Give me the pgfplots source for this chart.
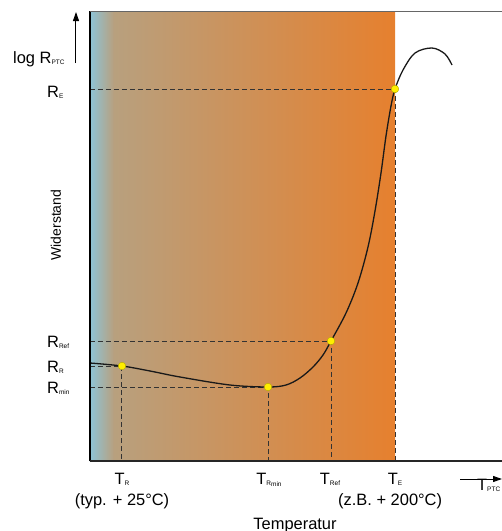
\documentclass[border=0pt]{standalone}
\usepackage{pgfplots}
\pgfplotsset{compat=1.18}
\usepackage{fontspec}
\setmainfont{Liberation Sans}
\usetikzlibrary{arrows.meta}

\definecolor{ptcblue}{HTML}{8DC4D8}
\definecolor{ptctan}{HTML}{B8A07E}
\definecolor{ptcorange}{HTML}{E6802E}
\definecolor{ptcyellow}{HTML}{FFEE00}

\newcommand{\sub}[1]{\raisebox{-1.5bp}{\fontsize{6.5}{7}\selectfont #1}}
\newcommand{\lab}{\fontsize{16.5}{18}\selectfont}

\begin{document}
\begin{tikzpicture}
\path[use as bounding box] (-90bp,-70bp) rectangle (412bp,461bp);
\begin{axis}[
    scale only axis,
    width=412bp, height=450bp,
    xmin=0, xmax=412, ymin=0, ymax=450,
    axis line style={draw=none},
    ticks=none,
    clip=false,
]
% background gradient
\addplot[draw=none, left color=ptcblue, right color=ptctan]
    coordinates {(0,0) (0,450) (24,450) (24,0)} -- cycle;
\addplot[draw=none, left color=ptctan, right color=ptcorange]
    coordinates {(24,0) (24,450) (305,450) (305,0)} -- cycle;

% dashed guides
\addplot[dash pattern=on 5bp off 3bp, line width=1bp, black!80] coordinates {(0,372) (305,372) (305,0)};
\addplot[dash pattern=on 5bp off 3bp, line width=1bp, black!80] coordinates {(0,120) (241,120) (241,0)};
\addplot[dash pattern=on 5bp off 3bp, line width=1bp, black!80] coordinates {(0,95) (32,95) (32,0)};
\addplot[dash pattern=on 5bp off 3bp, line width=1bp, black!80] coordinates {(0,74) (178,74) (178,0)};

% resistance curve
\addplot[smooth, tension=0.55, line width=1.3bp, black!90] coordinates {
    (0,98) (32,95) (60,90) (90,84) (140,76) (178,74) (196,76) (210,83)
    (223,94) (233,106) (241,120) (256,148) (268,178) (278,214) (285,250)
    (291,288) (296,325) (301,355) (305,372) (313,391) (325,408) (342,413)
    (355,407) (362,396)
};

% characteristic points
\addplot[only marks, mark=*, mark size=3.8bp,
    mark options={fill=ptcyellow, draw=ptcyellow!70!black, line width=0.4bp}]
    coordinates {(32,95) (178,74) (241,120) (305,372)};

% axes
\draw[line width=2.5bp, black] (axis cs:0,0) -- (axis cs:0,450);
\draw[line width=2bp, black!85] (axis cs:0,0) -- (axis cs:412,0);
\draw[line width=1bp, black!60] (axis cs:0,450) -- (axis cs:412,450);

% arrows
\draw[line width=1bp, -{Triangle[length=9bp,width=6bp]}] (axis cs:-14,398) -- (axis cs:-14,449);
\draw[line width=1bp, -{Triangle[length=9bp,width=6bp]}] (axis cs:370,-18) -- (axis cs:412,-18);

% y labels
\node[anchor=base west, inner sep=0] at (axis cs:-77,398) {\lab log R\sub{PTC}};
\node[anchor=base west, inner sep=0] at (axis cs:-43,364) {\lab R\sub{E}};
\node[anchor=base west, inner sep=0] at (axis cs:-43,114) {\lab R\sub{Ref}};
\node[anchor=base west, inner sep=0] at (axis cs:-43,89) {\lab R\sub{R}};
\node[anchor=base west, inner sep=0] at (axis cs:-43,68) {\lab R\sub{min}};
\node[rotate=90, inner sep=0] at (axis cs:-34,236) {\fontsize{14}{16}\selectfont Widerstand};

% x labels
\node[anchor=base, inner sep=0] at (axis cs:32,-23) {\lab T\sub{R}};
\node[anchor=base, inner sep=0] at (axis cs:179,-23) {\lab T\sub{R\raisebox{-1.2bp}{min}}};
\node[anchor=base, inner sep=0] at (axis cs:240,-23) {\lab T\sub{Ref}};
\node[anchor=base, inner sep=0] at (axis cs:305,-23) {\lab T\sub{E}};
\node[anchor=base, inner sep=0] at (axis cs:32,-44) {\lab (typ. + 25°C)};
\node[anchor=base west, inner sep=0] at (axis cs:248,-44) {\lab (z.B. + 200°C)};
\node[anchor=base, inner sep=0] at (axis cs:205,-68) {\lab Temperatur};
\node[anchor=base west, inner sep=0] at (axis cs:387,-29) {\lab T\sub{PTC}};
\end{axis}
\end{tikzpicture}
\end{document}
